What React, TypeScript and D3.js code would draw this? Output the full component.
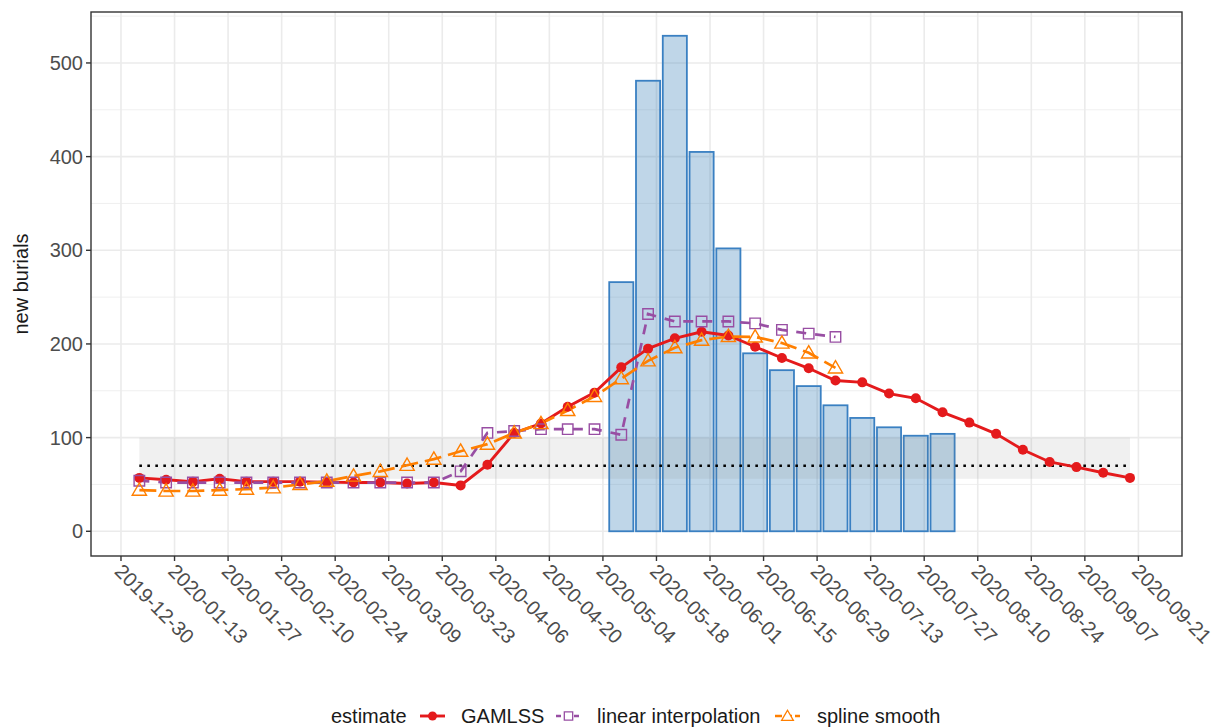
import React from 'react';
import * as d3 from 'd3';

// weekly estimates (one point per week, starting week of 2019-12-30)
const gamlss = [57, 55, 53, 56, 53, 53, 53, 52.5, 52, 52, 51, 52, 49, 71, 105, 115, 133, 148, 175, 195,
  206, 213, 209, 197, 185, 174, 161, 159, 147, 142, 127, 116, 104, 87, 74, 68.5, 62.5, 57];
const linearInterp = [54, 52, 52, 52, 52, 52, 52, 52, 52, 52, 52, 52, 64, 105, 107, 109, 109, 109, 103, 232,
  224, 224, 224, 222, 215, 211, 207.5];
const splineSmooth = [44, 43, 43, 44, 45, 46.5, 50, 53.5, 59, 64, 70.5, 77, 85.5, 93, 105, 115, 129, 144, 163, 182,
  196, 204, 208, 207.5, 201, 190.5, 174.5];

// observed new burials (weeks 18..30)
const barFirstWeek = 18;
const burials = [266, 481, 529, 405, 302, 190, 172, 155, 134.5, 121, 111, 102, 104];

// baseline band
const baselineMean = 70;
const baselineLow = 56;
const baselineHigh = 100;

const yTicks = [0, 100, 200, 300, 400, 500];
const yMinor = [50, 150, 250, 350, 450, 550];
const xTickStart = '2019-12-30';
const xTickCount = 20;

const DAY = 86400000;
const W = 1216;
const H = 727;
const panel = { left: 91, right: 1182, top: 12, bottom: 556 };

const RED = '#E41A1C';
const PURPLE = '#984EA3';
const ORANGE = '#FF7F00';
const BLUE = '#377EB8';
const FONT = 'Liberation Sans, Arial, sans-serif';
const FS = 20;

const App: React.FC = () => {
  const origin = new Date(xTickStart + 'T00:00:00Z');
  const weekDate = (i: number) => new Date(origin.getTime() + (4.8 + 7 * i) * DAY);

  const x = d3.scaleUtc()
    .domain([new Date(origin.getTime() - 7.84 * DAY), new Date(origin.getTime() + 277.4 * DAY)])
    .range([panel.left, panel.right]);
  const y = d3.scaleLinear().domain([-26.4, 554.4]).range([panel.bottom, panel.top]);

  const xTicks = d3.range(xTickCount).map(i => d3.utcDay.offset(origin, 14 * i));
  const fmt = d3.utcFormat('%Y-%m-%d');

  const line = d3.line<number>()
    .x((_, i) => x(weekDate(i)))
    .y(d => y(d));

  const weekW = x(weekDate(1)) - x(weekDate(0));
  const barW = weekW * 0.9;

  const tri = d3.symbol().type(d3.symbolTriangle).size(88)();
  const sq = d3.symbol().type(d3.symbolSquare).size(110)();

  const x0 = x(weekDate(0));
  const x1 = x(weekDate(gamlss.length - 1));

  return (
    <svg width={W} height={H} style={{ position: 'absolute', left: 0, top: 0, background: '#fff' }}
      fontFamily={FONT}>
      {/* grid */}
      <g>
        {yMinor.map(v => (
          <line key={'ym' + v} x1={panel.left} x2={panel.right} y1={y(v)} y2={y(v)} stroke="#ebebeb" strokeWidth={0.8} />
        ))}
        {yTicks.map(v => (
          <line key={'y' + v} x1={panel.left} x2={panel.right} y1={y(v)} y2={y(v)} stroke="#ebebeb" strokeWidth={1.6} />
        ))}
        {xTicks.map(d => (
          <line key={'x' + d.getTime()} x1={x(d)} x2={x(d)} y1={panel.top} y2={panel.bottom} stroke="#ebebeb" strokeWidth={1.6} />
        ))}
      </g>

      {/* bars */}
      <g>
        {burials.map((v, i) => {
          const cx = x(weekDate(barFirstWeek + i));
          return (
            <rect key={i} x={cx - barW / 2} y={y(v)} width={barW} height={y(0) - y(v)}
              fill={BLUE} fillOpacity={0.32} stroke="#3a80c2" strokeWidth={1.8} />
          );
        })}
      </g>

      {/* baseline band + mean */}
      <rect x={x0} width={x1 - x0} y={y(baselineHigh)} height={y(baselineLow) - y(baselineHigh)}
        fill="#808080" fillOpacity={0.12} />
      <line x1={x0} x2={x1} y1={y(baselineMean)} y2={y(baselineMean)} stroke="#000" strokeWidth={2.6}
        strokeDasharray="2.6,5.4" />

      {/* lines */}
      <path d={line(gamlss) || ''} fill="none" stroke={RED} strokeWidth={2.9} />
      <path d={line(linearInterp) || ''} fill="none" stroke={PURPLE} strokeWidth={2.7} strokeDasharray="10,9" />
      <path d={line(splineSmooth) || ''} fill="none" stroke={ORANGE} strokeWidth={2.7} strokeDasharray="17,7" />

      {/* points */}
      {gamlss.map((v, i) => (
        <circle key={'g' + i} cx={x(weekDate(i))} cy={y(v)} r={5} fill={RED} />
      ))}
      {linearInterp.map((v, i) => (
        <path key={'l' + i} d={sq || ''} transform={`translate(${x(weekDate(i))},${y(v)})`}
          fill="none" stroke={PURPLE} strokeWidth={1.4} />
      ))}
      {splineSmooth.map((v, i) => (
        <path key={'s' + i} d={tri || ''} transform={`translate(${x(weekDate(i))},${y(v) + 1})`}
          fill="none" stroke={ORANGE} strokeWidth={1.4} />
      ))}

      {/* panel border */}
      <rect x={panel.left} y={panel.top} width={panel.right - panel.left} height={panel.bottom - panel.top}
        fill="none" stroke="#333" strokeWidth={1.4} />

      {/* y axis */}
      <g>
        {yTicks.map(v => (
          <g key={v} transform={`translate(${panel.left},${y(v)})`}>
            <line x1={-5} x2={0} stroke="#333" strokeWidth={1.4} />
            <text x={-8} dy="0.36em" textAnchor="end" fontSize={FS} fill="#4d4d4d">{v}</text>
          </g>
        ))}
        <text transform={`translate(28,${(panel.top + panel.bottom) / 2}) rotate(-90)`} textAnchor="middle"
          fontSize={FS} fill="#1a1a1a">new burials</text>
      </g>

      {/* x axis */}
      <g>
        {xTicks.map(d => (
          <g key={d.getTime()} transform={`translate(${x(d)},${panel.bottom})`}>
            <line y1={0} y2={5} stroke="#333" strokeWidth={1.4} />
            <text transform="translate(3,6) rotate(45)" fontSize={FS} fill="#4d4d4d" dy="0.75em">{fmt(d)}</text>
          </g>
        ))}
      </g>

      {/* legend */}
      <g transform="translate(0,716)" fontSize={FS}>
        <text x={331} dy="0.36em" fill="#1a1a1a">estimate</text>
        <g transform="translate(420,0)">
          <line x1={0} x2={25} stroke={RED} strokeWidth={2.9} />
          <circle cx={12.5} cy={0} r={4.5} fill={RED} />
        </g>
        <text x={461} dy="0.36em" fill="#1a1a1a">GAMLSS</text>
        <g transform="translate(556,0)">
          <line x1={0} x2={25} stroke={PURPLE} strokeWidth={2.7} strokeDasharray="5,4" />
          <path d={d3.symbol().type(d3.symbolSquare).size(70)() || ''} transform="translate(12.5,0)"
            fill="#fff" stroke={PURPLE} strokeWidth={1.3} />
        </g>
        <text x={597} dy="0.36em" fill="#1a1a1a">linear interpolation</text>
        <g transform="translate(775,0)">
          <line x1={0} x2={25} stroke={ORANGE} strokeWidth={2.7} strokeDasharray="7,3" />
          <path d={d3.symbol().type(d3.symbolTriangle).size(60)() || ''} transform="translate(12.5,1)"
            fill="#fff" stroke={ORANGE} strokeWidth={1.3} />
        </g>
        <text x={817} dy="0.36em" fill="#1a1a1a">spline smooth</text>
      </g>
    </svg>
  );
};

export default App;
